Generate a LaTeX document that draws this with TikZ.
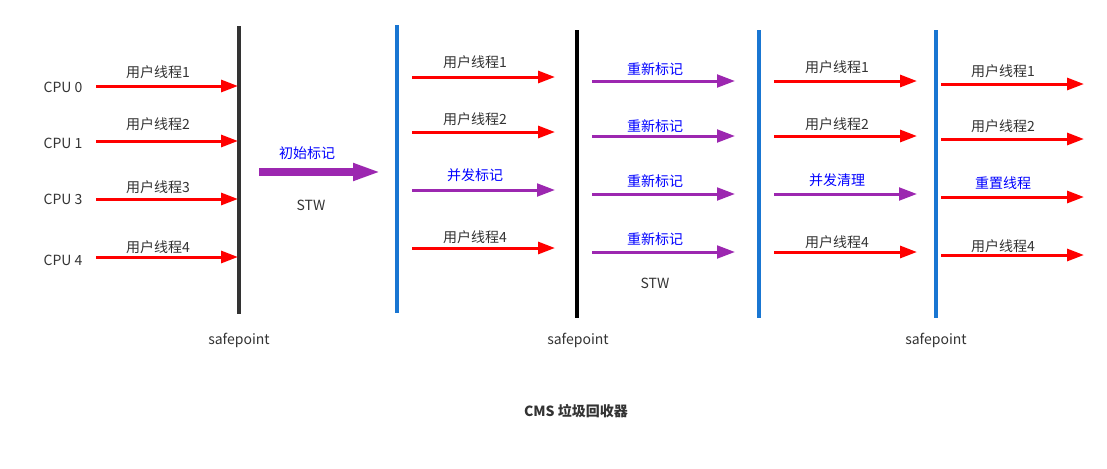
\documentclass[tikz,border=0pt]{standalone}
\usepackage{fontspec}
\setmainfont{Noto Sans CJK SC}
\usetikzlibrary{arrows.meta}
\definecolor{gcred}{HTML}{FF0000}
\definecolor{gcpurple}{HTML}{9C27B0}
\definecolor{gcblue}{HTML}{1976D2}
\definecolor{gcgray}{HTML}{333333}
\definecolor{gclabel}{HTML}{0000FF}

\begin{document}
\begin{tikzpicture}[x=0.75pt, y=-0.75pt,
	every node/.style={font=\fontsize{10.5}{12}\selectfont, text=gcgray, inner sep=0pt},
	usr/.style={text=gcgray}, gc/.style={text=gclabel},
	thr/.style={gcred, line width=2.25pt, -{Triangle[length=12.75pt, width=9pt]}},
	gcarrow/.style={gcpurple, line width=2.25pt, -{Triangle[length=13.5pt, width=9.5pt]}}]
	\useasboundingbox (0,0) rectangle (1107,468);
	% safepoint bars
	\draw[gcgray, line width=3pt] (239,26) -- (239,314);
	\draw[gcblue, line width=2.4pt] (397,25) -- (397,313);
	\draw[black, line width=3pt] (577,30) -- (577,318);
	\draw[gcblue, line width=2.4pt] (759,30) -- (759,318);
	\draw[gcblue, line width=2.4pt] (936,30) -- (936,318);
	\foreach \x [count=\i] in {239, 578, 936} \node (sp\i) at (\x,340) {safepoint};
	% column 1
	\foreach \y/\cy/\ly/\c/\n [count=\i] in {86/87/72/0/1, 141/143/124/1/2, 199/199/187/3/3, 257/260/247/4/4} {
		\node (cpu\i) at (63,\cy) {CPU \c};
		\coordinate (a\i s) at (96,\y);
		\coordinate (a\i e) at (238,\y);
		\draw[thr] (a\i s) -- (a\i e);
		\node (a\i l) at (158,\ly) {用户线程\n};
	}
	% initial mark
	\coordinate (ims) at (259,172);
	\coordinate (ime) at (381,172);
	\draw[gcpurple, line width=5.5pt, -{Triangle[length=21pt, width=12pt]}] (ims) -- (ime);
	\node[gc] (iml) at (307,153) {初始标记};
	\node (stw1) at (311,205) {STW};
	% column 2
	\foreach \y/\ly/\st/\lt/\t [count=\i] in {77/62/thr/usr/用户线程1, 132/119/thr/usr/用户线程2, 190/175/gcarrow/gc/并发标记, 248/237/thr/usr/用户线程4} {
		\coordinate (b\i s) at (412,\y);
		\coordinate (b\i e) at (555,\y);
		\draw[\st] (b\i s) -- (b\i e);
		\node[\lt] (b\i l) at (475,\ly) {\t};
	}
	% column 3, remark
	\foreach \y/\ly [count=\i] in {81/69, 136/126, 194/181, 252/239} {
		\coordinate (c\i s) at (592,\y);
		\coordinate (c\i e) at (735,\y);
		\draw[gcarrow] (c\i s) -- (c\i e);
		\node[gc] (c\i l) at (655,\ly) {重新标记};
	}
	\node (stw2) at (655,283) {STW};
	% column 4
	\foreach \y/\ly/\st/\lt/\t [count=\i] in {81/67/thr/usr/用户线程1, 136/124/thr/usr/用户线程2, 194/180/gcarrow/gc/并发清理, 252/242/thr/usr/用户线程4} {
		\coordinate (d\i s) at (774,\y);
		\coordinate (d\i e) at (917,\y);
		\draw[\st] (d\i s) -- (d\i e);
		\node[\lt] (d\i l) at (837,\ly) {\t};
	}
	% column 5
	\foreach \y/\ly/\lt/\t [count=\i] in {84/71/usr/用户线程1, 139/126/usr/用户线程2, 197/183/gc/重置线程, 255/246/usr/用户线程4} {
		\coordinate (e\i s) at (941,\y);
		\coordinate (e\i e) at (1084,\y);
		\draw[thr] (e\i s) -- (e\i e);
		\node[\lt] (e\i l) at (1003,\ly) {\t};
	}
	\node[font=\fontsize{10.5}{12}\selectfont\bfseries] (title) at (576,411) {CMS 垃圾回收器};
\end{tikzpicture}
\end{document}
